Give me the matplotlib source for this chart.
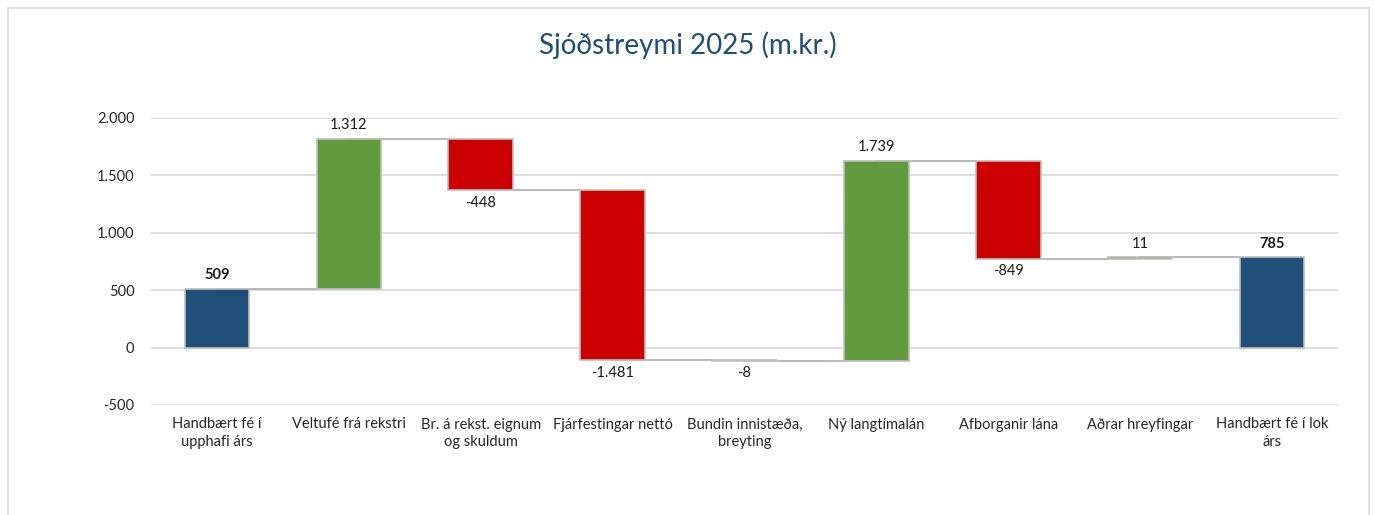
import matplotlib.pyplot as plt
import numpy as np
from matplotlib.patches import Rectangle
from matplotlib.ticker import FuncFormatter

# Waterfall data (m.kr.)
categories = ['Handbært fé í\nupphafi árs', 'Veltufé frá rekstri', 'Br. á rekst. eignum\nog skuldum',
              'Fjárfestingar nettó', 'Bundin innistæða,\nbreyting', 'Ný langtímalán',
              'Afborganir lána', 'Aðrar hreyfingar', 'Handbært fé í lok\nárs']
values = [509, 1312, -448, -1481, -8, 1739, -849, 11, 785]
is_total = [True, False, False, False, False, False, False, False, True]
yticks = [-500, 0, 500, 1000, 1500, 2000]

BLUE = '#1F4E79'
GREEN = '#629B3D'
RED = '#CC0000'
EDGE = '#BFBFBF'
GRID = '#D9D9D9'

plt.rcParams['font.family'] = ['Lato', 'DejaVu Sans']


def fmt(v):
    s = f"{abs(int(round(v))):,}".replace(',', '.')
    return ('-' if v < 0 else '') + s


fig = plt.figure(figsize=(13.75, 5.15), dpi=100)
fig.patches.append(Rectangle((8 / 1375, -0.1), 1361 / 1375, 1.1 - 8 / 515,
                             transform=fig.transFigure, fill=False,
                             edgecolor=GRID, linewidth=1.2))
ax = fig.add_axes([151 / 1375, 1 - 405 / 515, 1187 / 1375, 287 / 515])

x = np.arange(len(categories))
w = 0.49
bottoms, heights, colors, levels = [], [], [], []
running = 0
for v, tot in zip(values, is_total):
    if tot:
        bottoms.append(0)
        heights.append(v)
        colors.append(BLUE)
        running = v
    else:
        bottoms.append(running if v >= 0 else running + v)
        heights.append(abs(v))
        colors.append(GREEN if v >= 0 else RED)
        running += v
    levels.append(running)

ax.bar(x, heights, w, bottom=bottoms, color=colors, edgecolor=EDGE, linewidth=1.2, zorder=3)

# connectors
for i in range(len(x) - 1):
    ax.plot([x[i], x[i + 1] - w / 2], [levels[i], levels[i]], color='#A6A6A6',
            linewidth=1.1, zorder=2)

# data labels
for i, (v, tot) in enumerate(zip(values, is_total)):
    top = bottoms[i] + heights[i]
    if tot or v >= 0:
        ax.annotate(fmt(v), (x[i], top), xytext=(0, 5), textcoords='offset points',
                    ha='center', va='bottom', fontsize=10.5,
                    fontweight='bold' if tot else 'normal', color='#1a1a1a')
    else:
        ax.annotate(fmt(v), (x[i], bottoms[i]), xytext=(0, -4), textcoords='offset points',
                    ha='center', va='top', fontsize=10.5, color='#1a1a1a')

ax.set_xlim(-0.5, len(x) - 0.5)
ax.set_ylim(-500, 2000)
ax.set_yticks(yticks)
ax.yaxis.set_major_formatter(FuncFormatter(lambda v, p: fmt(v)))
ax.set_xticks(x)
ax.set_xticklabels(categories, fontsize=10.5, color='#262626', linespacing=1.35)
ax.tick_params(axis='y', length=0, pad=12, labelsize=10.5, labelcolor='#262626')
ax.tick_params(axis='x', length=0, pad=9)
ax.grid(axis='y', color=GRID, linewidth=1.2, zorder=0)
for s in ax.spines.values():
    s.set_visible(False)

fig.text(688 / 1375, 1 - 45 / 515, 'Sjóðstreymi 2025 (m.kr.)', ha='center', va='center',
         fontsize=20, color=BLUE)

plt.savefig('out.png', dpi=100)
